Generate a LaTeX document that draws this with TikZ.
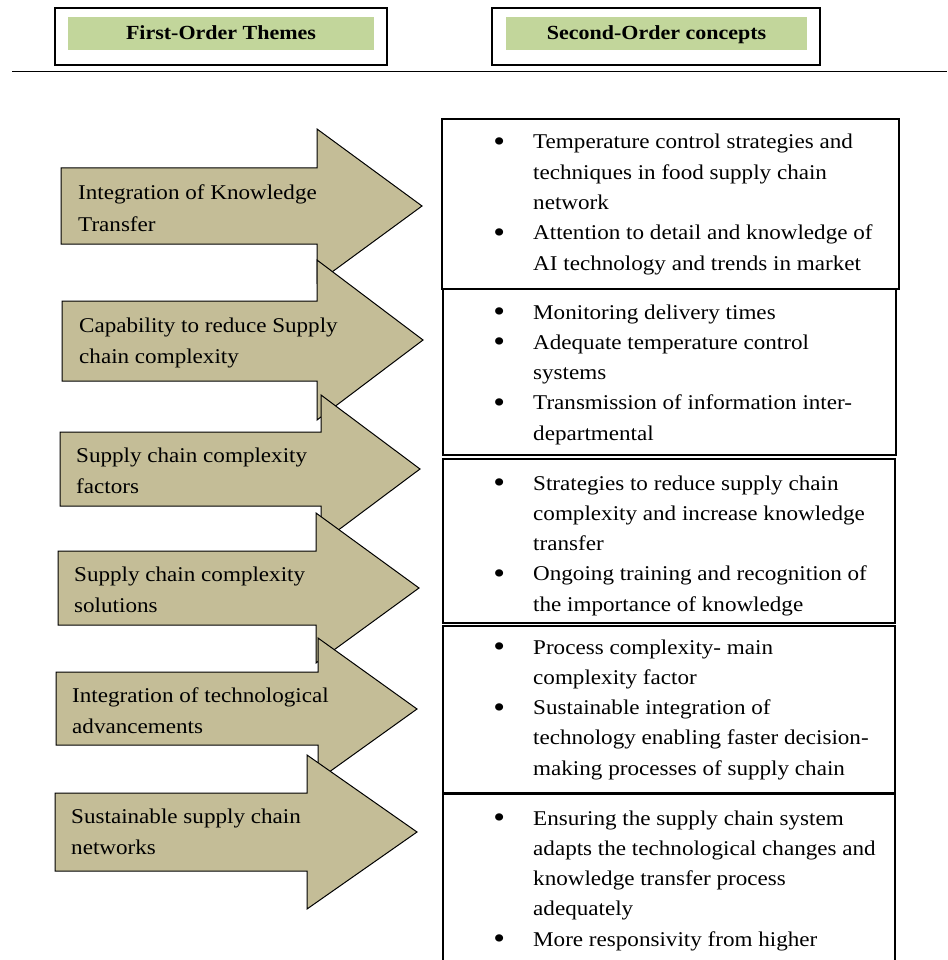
\documentclass[tikz,border=0pt]{standalone}
\usepackage{fontspec}
\setmainfont{Liberation Serif}[FakeStretch=1.1]
\definecolor{arrowtan}{HTML}{C4BD97}
\definecolor{headgreen}{HTML}{C2D69B}
\newcommand{\bul}{\leavevmode\llap{\makebox[0pt][c]{\raisebox{-2.5pt}{\scalebox{1.45}{\textbullet}}}\hspace{34pt}}}
\tikzset{
  arrowshape/.style={fill=arrowtan, draw=black, line width=1pt, line join=miter},
  boxline/.style={draw=black, line width=1.2pt},
  arrtext/.style={anchor=base west, inner sep=0pt, font=\fontsize{21}{31.5}\selectfont},
  boxtext/.style={anchor=base west, inner sep=0pt, font=\fontsize{21}{30.3}\selectfont},
  headtext/.style={anchor=base, inner sep=0pt, font=\fontsize{20}{23}\selectfont\bfseries},
}
\begin{document}
\begin{tikzpicture}[x=1pt,y=-1pt]
\useasboundingbox (0,0) rectangle (947,960);
% header
\draw[boxline] (55,8) rectangle (387,65);
\fill[headgreen] (68,17) rectangle (374,50);
\node[headtext] (h1) at (221,40) {First-Order Themes};
\draw[boxline] (492,8) rectangle (820,65);
\fill[headgreen] (506,17) rectangle (807,50);
\node[headtext] (h2) at (656.5,40) {Second-Order concepts};
\coordinate (ruleL) at (12,71.5);
\coordinate (ruleR) at (947,71.5);
\draw[line width=1.5pt] (ruleL) -- (ruleR);
% right boxes
\draw[boxline] (442,119) rectangle (899,289);
\draw[boxline] (443,289) rectangle (896,455);
\draw[boxline] (443,459) rectangle (895,623);
\draw[boxline] (443,626) rectangle (895,793);
\draw[boxline] (443,965) -- (443,794) -- (895,794) -- (895,965);
% arrows
\draw[arrowshape] (61,168) -- (317,168) -- (317,129) -- (422,206) -- (317,283) -- (317,244) -- (61,244) -- cycle;
\draw[arrowshape] (62,301) -- (317,301) -- (317,260) -- (423,340) -- (317,420) -- (317,381) -- (62,381) -- cycle;
\draw[arrowshape] (60,432) -- (321,432) -- (321,395) -- (420,469) -- (321,543) -- (321,506) -- (60,506) -- cycle;
\draw[arrowshape] (58,551) -- (316,551) -- (316,513) -- (419,588) -- (316,663) -- (316,625) -- (58,625) -- cycle;
\draw[arrowshape] (56,672) -- (318,672) -- (318,638) -- (417,709) -- (318,780) -- (318,745) -- (56,745) -- cycle;
\draw[arrowshape] (55,793) -- (307,793) -- (307,755) -- (417,832) -- (307,909) -- (307,871) -- (55,871) -- cycle;
% arrow texts
\node[arrtext] (a1) at (78,200) {\parbox[t]{340pt}{Integration of Knowledge\\Transfer}};
\node[arrtext] (a2) at (79,332) {\parbox[t]{340pt}{Capability to reduce Supply\\chain complexity}};
\node[arrtext] (a3) at (76,462) {\parbox[t]{340pt}{Supply chain complexity\\factors}};
\node[arrtext] (a4) at (74,581) {\parbox[t]{340pt}{Supply chain complexity\\solutions}};
\node[arrtext] (a5) at (72,702) {\parbox[t]{340pt}{Integration of technological\\advancements}};
\node[arrtext] (a6) at (71,823) {\parbox[t]{340pt}{Sustainable supply chain\\networks}};
% box texts
\node[boxtext] (b1) at (533,149) {\parbox[t]{380pt}{\bul Temperature control strategies and\\techniques in food supply chain\\network\\\bul Attention to detail and knowledge of\\AI technology and trends in market}};
\node[boxtext] (b2) at (533,319) {\parbox[t]{380pt}{\bul Monitoring delivery times\\\bul Adequate temperature control\\systems\\\bul Transmission of information inter-\\departmental}};
\node[boxtext] (b3) at (533,490) {\parbox[t]{380pt}{\bul Strategies to reduce supply chain\\complexity and increase knowledge\\transfer\\\bul Ongoing training and recognition of\\the importance of knowledge}};
\node[boxtext] (b4) at (533,654) {\parbox[t]{380pt}{\bul Process complexity- main\\complexity factor\\\bul Sustainable integration of\\technology enabling faster decision-\\making processes of supply chain}};
\node[boxtext] (b5) at (533,825) {\parbox[t]{380pt}{\bul Ensuring the supply chain system\\adapts the technological changes and\\knowledge transfer process\\adequately\\\bul More responsivity from higher}};
\end{tikzpicture}
\end{document}
